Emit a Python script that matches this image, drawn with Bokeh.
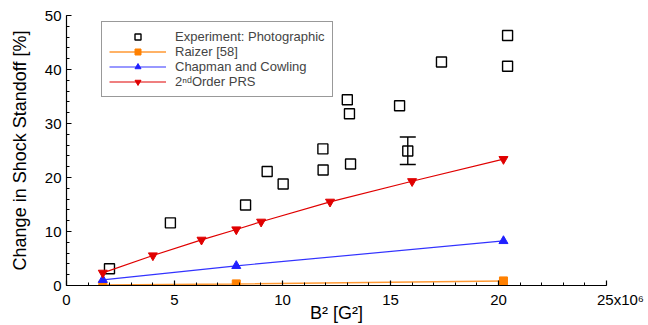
from bokeh.plotting import figure
from bokeh.models import Range1d, Legend, LegendItem, Whisker, ColumnDataSource, FixedTicker
from bokeh.embed import file_html
from bokeh.resources import INLINE

# Experiment: Photographic (B^2 in 10^6 G^2, change in %)
exp_x = [1.99, 4.81, 8.29, 9.29, 10.03, 11.88, 11.87, 13.0, 13.1, 13.15, 15.42, 15.8, 17.36, 20.42, 20.42]
exp_y = [3.1, 11.6, 14.9, 21.1, 18.8, 21.4, 25.3, 34.4, 31.8, 22.5, 33.3, 24.9, 41.4, 46.3, 40.6]
err_x = [15.8]
err_lo = [22.4]
err_hi = [27.5]

raizer_x = [1.68, 7.86, 20.23]
raizer_y = [0.1, 0.3, 0.85]

chap_x = [1.68, 7.86, 20.23]
chap_y = [1.05, 3.64, 8.25]

prs_x = [1.68, 4.0, 6.25, 7.86, 9.01, 12.2, 16.0, 20.23]
prs_y = [2.35, 5.56, 8.46, 10.37, 11.8, 15.5, 19.3, 23.4]

x_ticks = [0, 5, 10, 15, 20, 25]
# last tick: "25" centred on the tick with "x10^6" appended (padded on the left)
x_tick_labels = {25: "\u2007\u2007\u2007\u200925x10\u2076"}
y_ticks = [0, 10, 20, 30, 40, 50]

FONT = "Liberation Sans"

p = figure(width=648, height=325, output_backend="svg", toolbar_location=None,
           x_range=Range1d(0, 25), y_range=Range1d(0, 50),
           min_border_left=66, min_border_right=42, min_border_top=15, min_border_bottom=40)
p.outline_line_color = None
p.grid.visible = False
p.background_fill_color = "white"
p.border_fill_color = "white"

ORANGE = "#ff8000"
BLUE = "#2020ff"
RED = "#e00000"

r_exp = p.scatter(exp_x, exp_y, marker="square", size=10, fill_color=None,
                  line_color="black", line_width=1.4)
src = ColumnDataSource(dict(x=err_x, lo=err_lo, hi=err_hi))
wh = Whisker(base="x", lower="lo", upper="hi", source=src, line_color="black", line_width=1.4)
wh.upper_head.size = 16
wh.lower_head.size = 16
wh.upper_head.line_width = 1.4
wh.lower_head.line_width = 1.4
p.add_layout(wh)

l_r = p.line(raizer_x, raizer_y, line_color="#ff9933", line_width=1.5)
s_r = p.scatter(raizer_x, raizer_y, marker="square", size=8, fill_color=ORANGE, line_color=ORANGE)
l_c = p.line(chap_x, chap_y, line_color="#3333ff", line_width=1.2)
s_c = p.scatter(chap_x, chap_y, marker="triangle", size=9, fill_color=BLUE, line_color=BLUE)
l_p = p.line(prs_x, prs_y, line_color=RED, line_width=1.2)
s_p = p.scatter(prs_x, prs_y, marker="inverted_triangle", size=9, fill_color=RED, line_color=RED)

legend = Legend(items=[
    LegendItem(label="Experiment: Photographic", renderers=[r_exp]),
    LegendItem(label="Raizer [58]", renderers=[l_r, s_r]),
    LegendItem(label="Chapman and Cowling", renderers=[l_c, s_c]),
    LegendItem(label="2\u207f\u1d48Order PRS", renderers=[l_p, s_p]),
], location=(35, 188))
legend.label_text_font = FONT
legend.label_text_font_size = "13px"
legend.label_height = 15
legend.glyph_height = 15
legend.glyph_width = 57
legend.spacing = 0
legend.padding = 7
legend.margin = 0
legend.label_standoff = 9
legend.border_line_color = "#333333"
legend.border_line_width = 1.2
legend.background_fill_alpha = 1.0
p.add_layout(legend, "center")

for ax in (p.xaxis[0], p.yaxis[0]):
    ax.major_tick_in = 5
    ax.major_tick_out = 0
    ax.minor_tick_in = 3
    ax.minor_tick_out = 0
    ax.axis_line_color = "black"
    ax.axis_line_width = 1.2
    ax.major_tick_line_width = 1.2
    ax.minor_tick_line_width = 1.0
    ax.major_label_text_font = FONT
    ax.major_label_text_font_size = "15px"
    ax.major_label_text_color = "black"
    ax.axis_label_text_font = FONT
    ax.axis_label_text_font_size = "18px"
    ax.axis_label_text_font_style = "normal"
    ax.axis_label_text_color = "black"

p.xaxis[0].ticker = FixedTicker(ticks=x_ticks, minor_ticks=[i for i in range(0, 26)])
p.xaxis[0].major_label_overrides = x_tick_labels
p.xaxis[0].axis_label = "B\u00b2 [G\u00b2]"
p.xaxis[0].axis_label_standoff = -8
p.xaxis[0].major_label_standoff = 5

p.yaxis[0].ticker = FixedTicker(ticks=y_ticks, minor_ticks=[i for i in range(0, 51, 2)])
p.yaxis[0].axis_label = "Change in Shock Standoff [%]"
p.yaxis[0].axis_label_standoff = 12
p.yaxis[0].major_label_standoff = 5

open("out.html", "w").write(file_html(p, INLINE))
